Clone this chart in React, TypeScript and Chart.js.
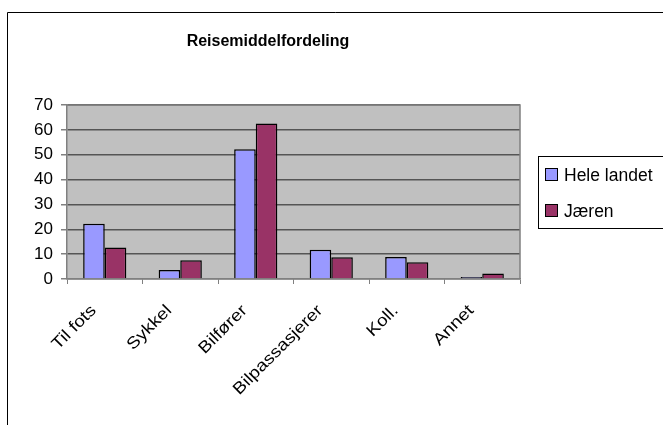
import React, { useEffect, useRef } from "react";
import { Chart, registerables } from "chart.js";

Chart.register(...registerables);

const categories = ["Til fots", "Sykkel", "Bilfører", "Bilpassasjerer", "Koll.", "Annet"];
const heleLandet = [22.2, 3.6, 52.2, 11.8, 8.9, 0.8];
const jaeren = [12.7, 7.5, 62.6, 8.8, 6.7, 2.2];
const seriesNames = ["Hele landet", "Jæren"];
const seriesColors = ["#9999FF", "#993366"];
const titleText = "Reisemiddelfordeling";

const FONT = "'Liberation Sans', Arial, sans-serif";

const decorPlugin = {
  id: "decor",
  beforeDraw(chart: any) {
    const { ctx, chartArea: a } = chart;
    ctx.save();
    ctx.fillStyle = "#ffffff";
    ctx.fillRect(0, 0, chart.width, chart.height);
    ctx.fillStyle = "#C0C0C0";
    ctx.fillRect(a.left, a.top, a.right - a.left, a.bottom - a.top);
    ctx.restore();
  },
  afterDraw(chart: any) {
    const { ctx, chartArea: a } = chart;
    ctx.save();
    ctx.strokeStyle = "#808080";
    ctx.lineWidth = 1.5;
    ctx.beginPath();
    ctx.moveTo(a.left, a.top);
    ctx.lineTo(a.right, a.top);
    ctx.lineTo(a.right, a.bottom);
    ctx.stroke();
    ctx.strokeStyle = "#000000";
    ctx.lineWidth = 1;
    ctx.beginPath();
    ctx.moveTo(7.5, chart.height + 5);
    ctx.lineTo(7.5, 12.5);
    ctx.lineTo(chart.width + 5, 12.5);
    ctx.stroke();
    // title
    ctx.fillStyle = "#000";
    ctx.font = `bold 16px ${FONT}`;
    ctx.textAlign = "center";
    ctx.textBaseline = "middle";
    ctx.fillText(titleText, 268, 42);
    // legend
    ctx.strokeStyle = "#000";
    ctx.lineWidth = 1;
    ctx.strokeRect(538.5, 156.5, 130, 72);
    ctx.font = `17.5px ${FONT}`;
    ctx.textAlign = "left";
    const ys = [175, 211];
    seriesNames.forEach((n, i) => {
      ctx.fillStyle = seriesColors[i];
      ctx.fillRect(545.5, ys[i] - 6.5, 12, 12);
      ctx.strokeRect(545.5, ys[i] - 6.5, 12, 12);
      ctx.fillStyle = "#000";
      ctx.fillText(n, 564, ys[i] + 1);
    });
    // x category labels, rotated 45 degrees
    const xs = chart.scales.x;
    ctx.font = `16.5px ${FONT}`;
    ctx.textAlign = "right";
    ctx.textBaseline = "middle";
    ctx.fillStyle = "#000";
    categories.forEach((c, i) => {
      const px = xs.getPixelForValue(i);
      ctx.save();
      ctx.translate(px - 11, a.bottom + 29);
      ctx.rotate(-Math.PI / 4);
      ctx.scale(1.15, 1);
      ctx.fillText(c, 0, 0);
      ctx.restore();
    });
    ctx.restore();
  },
};

export default function App() {
  const ref = useRef<HTMLCanvasElement>(null);
  useEffect(() => {
    if (!ref.current) return;
    const chart = new Chart(ref.current, {
      type: "bar",
      data: {
        labels: categories,
        datasets: [
          {
            label: seriesNames[0],
            data: heleLandet,
            backgroundColor: seriesColors[0],
            borderColor: "#000",
            borderWidth: 1.5,
            barPercentage: 1,
            categoryPercentage: 0.572,
          },
          {
            label: seriesNames[1],
            data: jaeren,
            backgroundColor: seriesColors[1],
            borderColor: "#000",
            borderWidth: 1.5,
            barPercentage: 1,
            categoryPercentage: 0.572,
          },
        ],
      },
      options: {
        responsive: false,
        animation: false,
        devicePixelRatio: 1,
        layout: { padding: { left: 0, top: 105, right: 143, bottom: 0 } },
        plugins: { legend: { display: false }, title: { display: false }, tooltip: { enabled: false } },
        scales: {
          x: {
            offset: true,
            grid: {
              display: true,
              offset: true,
              drawOnChartArea: false,
              color: "#808080",
              tickLength: 5,
            },
            border: { color: "#808080", width: 1.5 },
            ticks: { display: false, autoSkip: false },
            afterFit(scale: any) {
              scale.height = 425 - 279;
            },
          },
          y: {
            min: 0,
            max: 70,
            ticks: {
              stepSize: 10,
              color: "#000",
              font: { family: FONT, size: 17 },
              padding: 8,
            },
            grid: { color: "#555555", lineWidth: 1.5, tickLength: 6, tickColor: "#808080" },
            border: { color: "#808080", width: 1.5 },
            afterFit(scale: any) {
              scale.width = 67;
            },
          },
        },
      },
      plugins: [decorPlugin],
    } as any);
    return () => chart.destroy();
  }, []);
  return (
    <div style={{ position: "fixed", left: 0, top: 0, width: 663, height: 425 }}>
      <canvas ref={ref} width={663} height={425} style={{ display: "block" }} />
    </div>
  );
}
